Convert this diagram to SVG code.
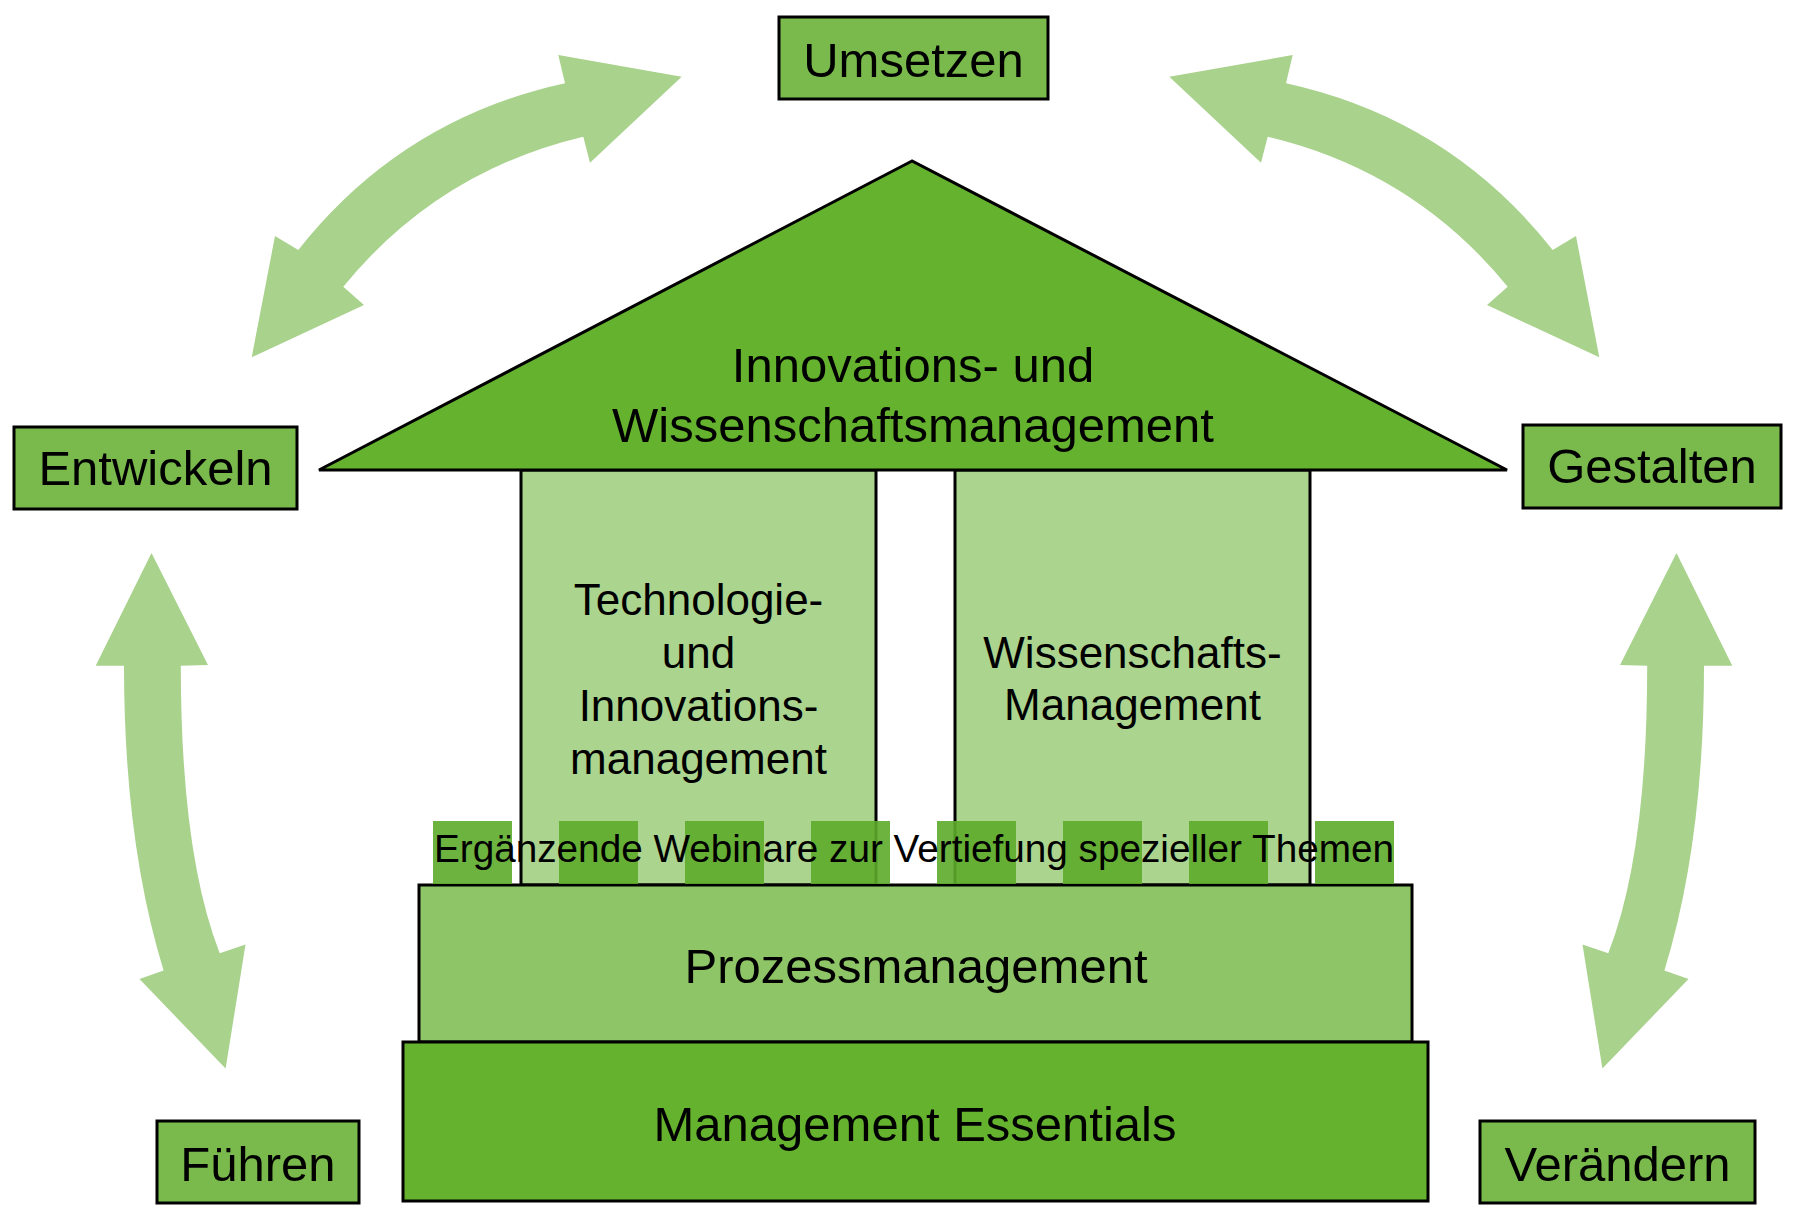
<svg xmlns="http://www.w3.org/2000/svg" xmlns:xlink="http://www.w3.org/1999/xlink" width="1796" height="1225" viewBox="0 0 1796 1225">
<style>
  text { font-family: "Liberation Sans", Arial, sans-serif; fill: #000; }
  .lbl { font-size: 49px; text-anchor: middle; }
  .pil { font-size: 44px; text-anchor: middle; }
  .web { font-size: 38px; }
  .box { fill: #7aba4c; stroke: #000; stroke-width: 3; }
  .dark { fill: #65b22e; stroke: #000; stroke-width: 3; }
  .mid { fill: #8ec566; stroke: #000; stroke-width: 3; }
  .light { fill: #abd48f; stroke: #000; stroke-width: 3; }
  .sq { fill: #5dab2b; opacity: 0.9; }
  .arr { fill: #a9d28d; }
</style>
<defs>
  <path id="arcArrow" d="M 681.7,76.7 L 590,162.7 L 583.3,136.7 Q 437.6,171.3 343.3,286.7 L 364,305 L 251.7,357.3 L 275,236 L 298.3,250 Q 401.8,119 565,83.3 L 558.3,55 Z"/>
  <path id="vArrow" d="M 151.5,553 L 208,665 L 180.8,665.7 Q 180.8,853.7 219.7,953.2 L 245.5,944.6 L 225.6,1068.6 L 139.5,979 L 163.6,970.4 Q 124,842 124,665.7 L 95.7,665.7 Z"/>
</defs>
<rect width="1796" height="1225" fill="#fff"/>
<g id="connectors">
  <use xlink:href="#arcArrow" class="arr"/>
  <use xlink:href="#arcArrow" class="arr" transform="matrix(-1,0,0,1,1851,0)"/>
  <use xlink:href="#vArrow" class="arr"/>
  <use xlink:href="#vArrow" class="arr" transform="matrix(-1,0,0,1,1828,0)"/>
</g>
<g id="pillar-left">
  <rect class="light" x="521" y="470" width="355" height="415"/>
  <text class="pil" x="698.5" y="615">Technologie-</text>
  <text class="pil" x="698.5" y="668">und</text>
  <text class="pil" x="698.5" y="721">Innovations-</text>
  <text class="pil" x="698.5" y="774">management</text>
</g>
<g id="pillar-right">
  <rect class="light" x="955" y="470" width="355" height="415"/>
  <text class="pil" x="1132.5" y="668">Wissenschafts-</text>
  <text class="pil" x="1132.5" y="720">Management</text>
</g>
<g id="roof">
  <polygon class="dark" points="912,161 319,470 1507,470"/>
  <text class="lbl" x="913" y="382">Innovations- und</text>
  <text class="lbl" x="913" y="442">Wissenschaftsmanagement</text>
</g>
<g id="prozess">
  <rect class="mid" x="419" y="885" width="993" height="157"/>
  <text class="lbl" x="916" y="983">Prozessmanagement</text>
</g>
<g id="essentials">
  <rect class="dark" x="403" y="1042" width="1025" height="159"/>
  <text class="lbl" x="915" y="1141">Management Essentials</text>
</g>
<g id="webinare">
  <rect class="sq" x="433" y="821" width="79" height="63"/>
  <rect class="sq" x="559" y="821" width="79" height="63"/>
  <rect class="sq" x="685" y="821" width="79" height="63"/>
  <rect class="sq" x="811" y="821" width="79" height="63"/>
  <rect class="sq" x="937" y="821" width="79" height="63"/>
  <rect class="sq" x="1063" y="821" width="79" height="63"/>
  <rect class="sq" x="1189" y="821" width="79" height="63"/>
  <rect class="sq" x="1315" y="821" width="79" height="63"/>
  <text class="web" x="434" y="862" textLength="960" lengthAdjust="spacingAndGlyphs">Ergänzende Webinare zur Vertiefung spezieller Themen</text>
</g>
<g id="umsetzen">
  <rect class="box" x="779" y="17" width="269" height="82"/>
  <text class="lbl" x="913.5" y="77">Umsetzen</text>
</g>
<g id="entwickeln">
  <rect class="box" x="14" y="427" width="283" height="82"/>
  <text class="lbl" x="155.5" y="485">Entwickeln</text>
</g>
<g id="gestalten">
  <rect class="box" x="1523" y="425" width="258" height="83"/>
  <text class="lbl" x="1652" y="483">Gestalten</text>
</g>
<g id="fuehren">
  <rect class="box" x="157" y="1121" width="202" height="82"/>
  <text class="lbl" x="258" y="1181">Führen</text>
</g>
<g id="veraendern">
  <rect class="box" x="1480" y="1121" width="275" height="82"/>
  <text class="lbl" x="1617.5" y="1181">Verändern</text>
</g>
</svg>
